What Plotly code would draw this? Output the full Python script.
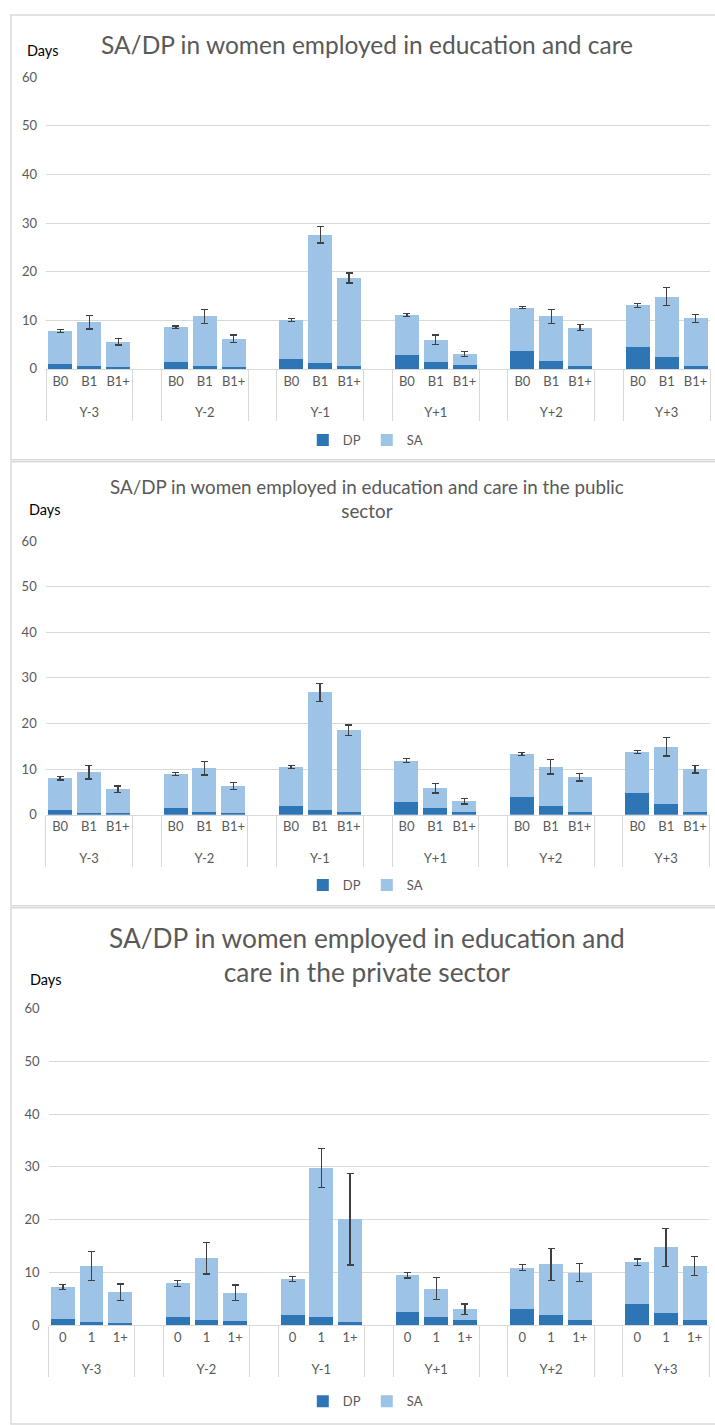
import plotly.graph_objects as go

W, H = 715, 1425

groups = ["Y-3", "Y-2", "Y-1", "Y+1", "Y+2", "Y+3"]
subcats_ab = ["B0", "B1", "B1+"]
subcats_c = ["0", "1", "1+"]

title1 = "SA/DP in women employed in education and care"
title2 = "SA/DP in women employed in education and care in the public<br>sector"
title3 = "SA/DP in women employed in education and<br>care in the private sector"

# Panel 1: all
dp1 = [1.0, 0.5, 0.3, 1.4, 0.6, 0.4, 2.0, 1.3, 0.5, 2.8, 1.5, 0.7, 3.7, 1.7, 0.5, 4.5, 2.4, 0.6]
sa1 = [6.8, 9.1, 5.3, 7.2, 10.2, 5.8, 8.0, 26.3, 18.2, 8.3, 4.5, 2.35, 8.9, 9.1, 8.0, 8.6, 12.45, 9.8]
err1 = [0.25, 1.4, 0.7, 0.25, 1.4, 0.8, 0.3, 1.7, 1.0, 0.3, 1.0, 0.5, 0.2, 1.45, 0.65, 0.4, 1.85, 0.8]

# Panel 2: public sector
dp2 = [1.0, 0.5, 0.3, 1.45, 0.6, 0.4, 2.0, 1.1, 0.6, 2.9, 1.45, 0.7, 3.8, 1.9, 0.6, 4.75, 2.4, 0.6]
sa2 = [7.0, 8.8, 5.3, 7.5, 9.65, 5.9, 8.5, 25.7, 17.9, 9.0, 4.35, 2.3, 9.5, 8.65, 7.6, 9.05, 12.5, 9.4]
err2 = [0.35, 1.45, 0.7, 0.3, 1.5, 0.8, 0.35, 1.9, 1.15, 0.4, 1.0, 0.6, 0.35, 1.6, 0.8, 0.35, 2.0, 0.85]

# Panel 3: private sector
dp3 = [1.2, 0.6, 0.45, 1.6, 0.95, 0.8, 1.9, 1.6, 0.6, 2.4, 1.6, 0.9, 3.1, 1.9, 0.9, 4.0, 2.25, 0.9]
sa3 = [6.05, 10.6, 5.8, 6.3, 11.75, 5.3, 6.85, 28.2, 19.45, 7.0, 5.3, 2.1, 7.8, 9.6, 9.05, 7.9, 12.5, 10.3]
err3 = [0.5, 2.7, 1.55, 0.55, 3.0, 1.5, 0.45, 3.7, 8.65, 0.5, 2.1, 1.0, 0.6, 3.0, 1.7, 0.65, 3.6, 1.85]

DP_COLOR = "#2E75B6"
SA_COLOR = "#9DC3E6"
GRID = "#D9D9D9"
TXT = "#595959"
FONT = "Lato"
PAD_LINE = "<br><span style='font-size:1px'>\u00a0</span>"


def px_x(p):
    return p / W


def px_y(p):
    return 1 - p / H


def build_x(subcats):
    top, bottom = [], []
    for gi, g in enumerate(groups):
        if gi > 0:
            top.append(" " * gi)
            bottom.append(" ")
        for s in subcats:
            top.append(g)
            bottom.append(s + PAD_LINE)
    return [top, bottom]


def pad(vals):
    out = []
    for gi in range(len(groups)):
        if gi > 0:
            out.append(None)
        out.extend(vals[gi * 3:gi * 3 + 3])
    return out


panels = [
    dict(dp=dp1, sa=sa1, err=err1, subcats=subcats_ab, title=title1, tsize=24.5,
         tcy=37, days=(25, 43), xd=(46, 710), yd=(70, 365), leg=437),
    dict(dp=dp2, sa=sa2, err=err2, subcats=subcats_ab, title=title2, tsize=18.8,
         tcy=496, days=(27, 507), xd=(45.7, 709.5), yd=(539, 816), leg=887),
    dict(dp=dp3, sa=sa3, err=err3, subcats=subcats_c, title=title3, tsize=26.3,
         tcy=958, days=(28, 983), xd=(48.5, 709), yd=(1012, 1332), leg=1409),
]

fig = go.Figure()
annotations = []
shapes = []
layout_extra = {}

panel_boxes = [(7, 457), (459, 908), (910, 1432)]

for i, p in enumerate(panels):
    n = i + 1
    xa = "x" if n == 1 else f"x{n}"
    ya = "y" if n == 1 else f"y{n}"
    lg = "legend" if n == 1 else f"legend{n}"
    xcats = build_x(p["subcats"])
    fig.add_trace(go.Bar(
        x=xcats, y=pad(p["dp"]), name="DP", marker=dict(color=DP_COLOR, line=dict(width=0)),
        xaxis=xa, yaxis=ya, legend=lg,
    ))
    fig.add_trace(go.Bar(
        x=xcats, y=pad(p["sa"]), name="SA", marker=dict(color=SA_COLOR, line=dict(width=0)),
        error_y=dict(type="data", array=pad(p["err"]), color="#404040", thickness=1.3, width=3.5),
        xaxis=xa, yaxis=ya, legend=lg,
    ))
    xkey = "xaxis" if n == 1 else f"xaxis{n}"
    ykey = "yaxis" if n == 1 else f"yaxis{n}"
    layout_extra[xkey] = dict(
        type="multicategory", domain=[px_x(p["xd"][0]), px_x(p["xd"][1])], anchor=ya,
        showline=True, linecolor=GRID, linewidth=1,
        ticks="outside", ticklen=6, tickcolor="rgba(0,0,0,0)", tickangle=0,
        showdividers=True, dividercolor=GRID, dividerwidth=1,
        tickfont=dict(family=FONT, size=13, color=TXT), showgrid=False,
    )
    layout_extra[ykey] = dict(
        domain=[px_y(p["yd"][1]), px_y(p["yd"][0])], anchor=xa, range=[0, 60], dtick=10,
        showgrid=True, gridcolor=GRID, gridwidth=1, zeroline=False, showline=False,
        tickfont=dict(family=FONT, size=13, color=TXT), ticks="", ticklabelstandoff=8,
    )
    layout_extra[lg] = dict(
        orientation="h", x=0.513, y=px_y(p["leg"]), xanchor="center", yanchor="middle",
        font=dict(family=FONT, size=13, color=TXT), bgcolor="rgba(0,0,0,0)",
        itemwidth=30, traceorder="normal", entrywidth=19, entrywidthmode="pixels",
    )
    annotations.append(dict(
        text=p["title"], xref="paper", yref="paper", x=0.513, y=px_y(p["tcy"]),
        xanchor="center", yanchor="middle", showarrow=False,
        font=dict(family=FONT, size=p["tsize"], color=TXT),
    ))
    annotations.append(dict(
        text="Days", xref="paper", yref="paper", x=px_x(p["days"][0]), y=px_y(p["days"][1]),
        xanchor="left", yanchor="middle", showarrow=False,
        font=dict(family=FONT, size=14.5, color="#000000"),
    ))
    b0, b1 = panel_boxes[i]
    shapes.append(dict(
        type="rect", xref="paper", yref="paper", x0=px_x(11), x1=px_x(725),
        y0=px_y(b1), y1=px_y(b0), line=dict(color=GRID, width=1.5), layer="below",
    ))

fig.update_layout(
    width=W, height=H, margin=dict(l=0, r=0, t=0, b=0),
    paper_bgcolor="white", plot_bgcolor="white",
    barmode="stack", bargap=0.17,
    annotations=annotations, shapes=shapes,
    **layout_extra,
)

fig.write_html(
    "out.html",
    post_script="document.body.style.margin='0';document.body.style.overflow='hidden';",
)
